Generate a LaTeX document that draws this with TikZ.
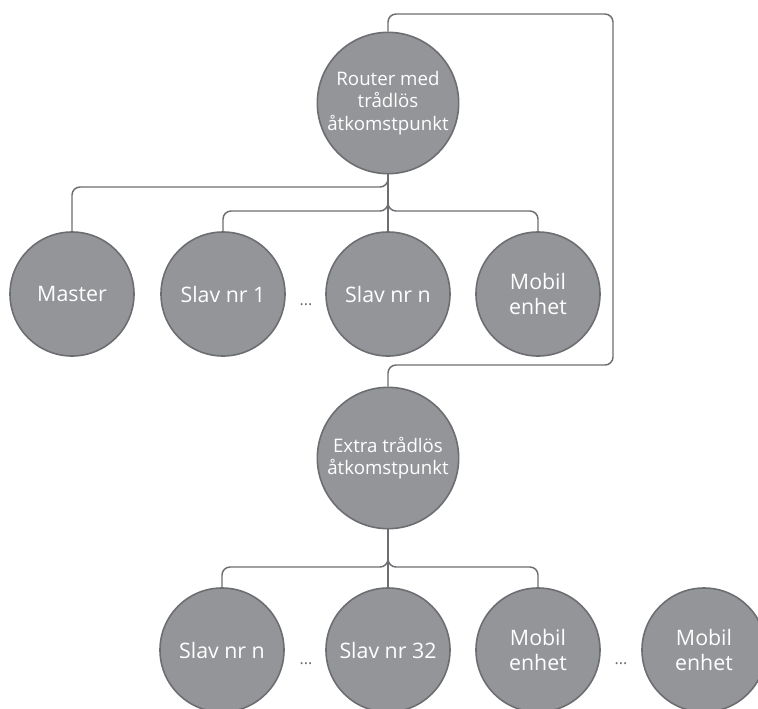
\documentclass[tikz,border=0pt]{standalone}
\usepackage{fontspec}
\setmainfont{Open Sans}
\definecolor{nodefill}{HTML}{939598}
\definecolor{nodeline}{HTML}{6D6E71}
\begin{document}
\begin{tikzpicture}[x=0.75pt,y=-0.75pt,
  dev/.style={circle,draw=nodeline,fill=nodefill,line width=1.2pt,inner sep=0pt,
    text=white,align=center},
  big/.style={dev,minimum size=106pt,font=\fontsize{14}{17}\selectfont},
  small/.style={dev,minimum size=93pt,font=\fontsize{16}{19}\selectfont},
  conn/.style={draw=nodeline,line width=1.1pt,rounded corners=6pt},
  dots/.style={text=nodeline,font=\fontsize{12}{14}\selectfont,inner sep=0pt}]
\useasboundingbox (0,0) rectangle (758,708);
\fill[white] (0,0) rectangle (758,708);

% coordinates for connector bends
\coordinate (loopA) at (613,14);
\coordinate (loopB) at (613,365);
\coordinate (bm) at (72,187);
\coordinate (bs1) at (223,211);
\coordinate (bmo) at (538,211);
\coordinate (cl) at (222,567);
\coordinate (cr) at (538,567);

\node[big] (router) at (388,103) {Router med\\trådlös\\åtkomstpunkt};
\node[small] (master) at (72,294) {Master};
\node[small] (slav1) at (223,294) {Slav nr 1};
\node[small] (slavn) at (388,294) {Slav nr n};
\node[small] (mobil1) at (538,294) {Mobil\\enhet};
\node[big] (extra) at (388,458) {Extra trådlös\\åtkomstpunkt};
\node[small] (bslavn) at (222,650) {Slav nr n};
\node[small] (bslav32) at (388,650) {Slav nr 32};
\node[small] (bmobil1) at (538,650) {Mobil\\enhet};
\node[small] (bmobil2) at (704,650) {Mobil\\enhet};

\draw[conn] (router.north) |- (loopA) -- (loopB) -| (extra.north);
\draw[conn] (router.south) |- (bm) -- (master.north);
\draw[conn] (router.south) |- (bs1) -- (slav1.north);
\draw[conn] (router.south) |- (bmo) -- (mobil1.north);
\draw[conn] (router.south) -- (slavn.north);
\draw[conn] (extra.south) |- (cl) -- (bslavn.north);
\draw[conn] (extra.south) |- (cr) -- (bmobil1.north);
\draw[conn] (extra.south) -- (bslav32.north);

\node[dots] (d1) at (306,305) {...};
\node[dots] (d2) at (306,664) {...};
\node[dots] (d3) at (621,664) {...};
\end{tikzpicture}
\end{document}
